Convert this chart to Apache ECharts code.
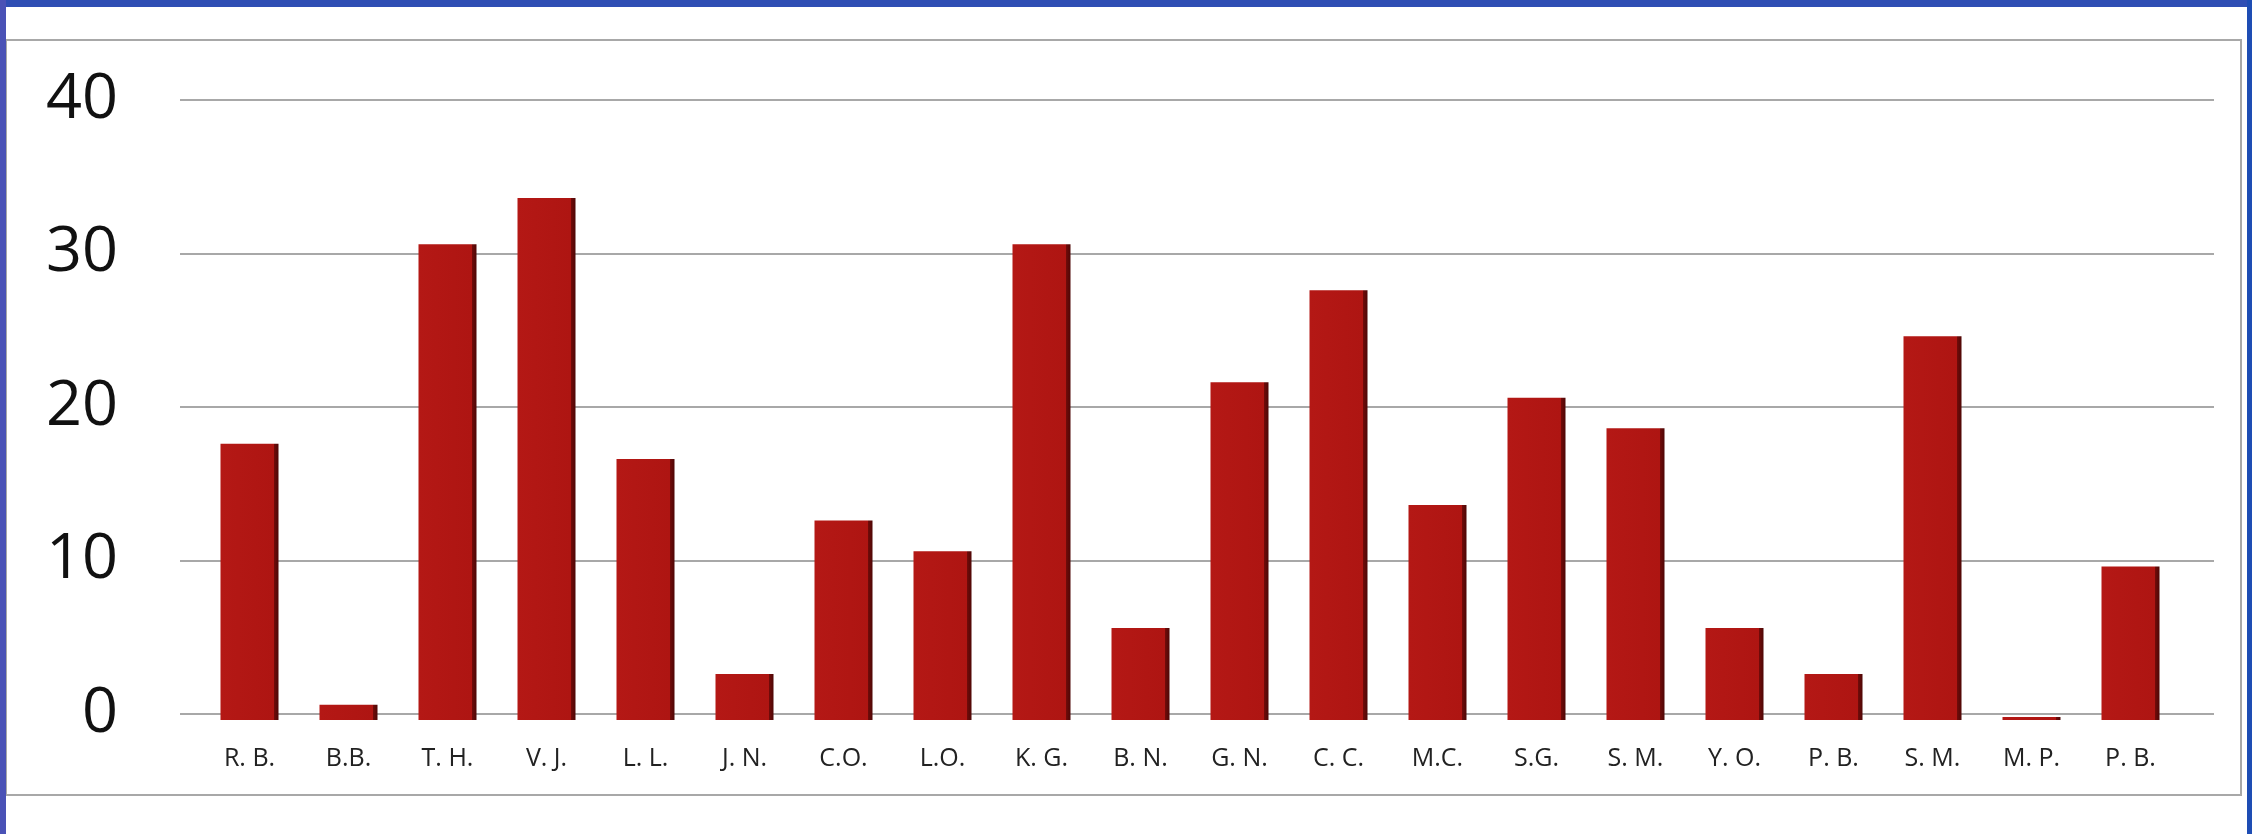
<!DOCTYPE html>
<html>
<head>
<meta charset="utf-8">
<script src="https://cdn.jsdelivr.net/npm/echarts@6/dist/echarts.min.js"></script>
<style>
html,body{margin:0;padding:0;background:#fff;}
#c{width:2252px;height:834px;}
</style>
</head>
<body>
<div id="c"></div>
<script>
var categories = ['R. B.','B.B.','T. H.','V. J.','L. L.','J. N.','C.O.','L.O.','K. G.','B. N.','G. N.','C. C.','M.C.','S.G.','S. M.','Y. O.','P. B.','S. M.','M. P.','P. B.'];
var values = [18,1,31,34,17,3,13,11,31,6,22,28,14,21,19,6,3,25,0,10];
var yTicks = [0,10,20,30,40];

var chart = echarts.init(document.getElementById('c'), null, {renderer:'canvas'});
var barColor = new echarts.graphic.LinearGradient(0,0,1,0,[
  {offset:0, color:'#B41815'},
  {offset:0.92, color:'#AE1512'},
  {offset:0.93, color:'#6E0B09'},
  {offset:1, color:'#4E0706'}
]);
chart.setOption({
  animation:false,
  backgroundColor:'#ffffff',
  grid:[
    {left:180, right:38, top:100, bottom:120},
    {left:200, right:72, top:106, bottom:114}
  ],
  xAxis:[
    {gridIndex:0, type:'category', data:categories, show:false},
    {gridIndex:1, type:'category', data:categories,
     axisLine:{show:false}, axisTick:{show:false},
     axisLabel:{interval:0, margin:26, fontFamily:'Open Sans', fontSize:25, color:'#222'}}
  ],
  yAxis:[
    {gridIndex:0, type:'value', min:yTicks[0], max:yTicks[yTicks.length-1], interval:10,
     axisLine:{show:false}, axisTick:{show:false},
     axisLabel:{margin:62, fontFamily:'Open Sans', fontSize:63, color:'#111'},
     splitLine:{lineStyle:{color:'#A8A8A8', width:2}}},
    {gridIndex:1, type:'value', min:0, max:40, interval:10, show:false, splitLine:{show:false}}
  ],
  series:[{
    type:'bar', xAxisIndex:1, yAxisIndex:1, data:values,
    barWidth:58, barMinHeight:3,
    itemStyle:{color:barColor}
  }],
  graphic:[
    {type:'rect', shape:{x:6, y:40, width:2235, height:755}, style:{fill:'none', stroke:'#A8A8A8', lineWidth:2}, z:-1},
    {type:'rect', shape:{x:0, y:0, width:2252, height:7}, style:{fill:'#2F4EB4'}},
    {type:'rect', shape:{x:0, y:0, width:6, height:834}, style:{fill:'#4A52B6'}},
    {type:'rect', shape:{x:2247, y:0, width:5, height:834}, style:{fill:'#1E4DB4'}}
  ]
});
</script>
</body>
</html>
